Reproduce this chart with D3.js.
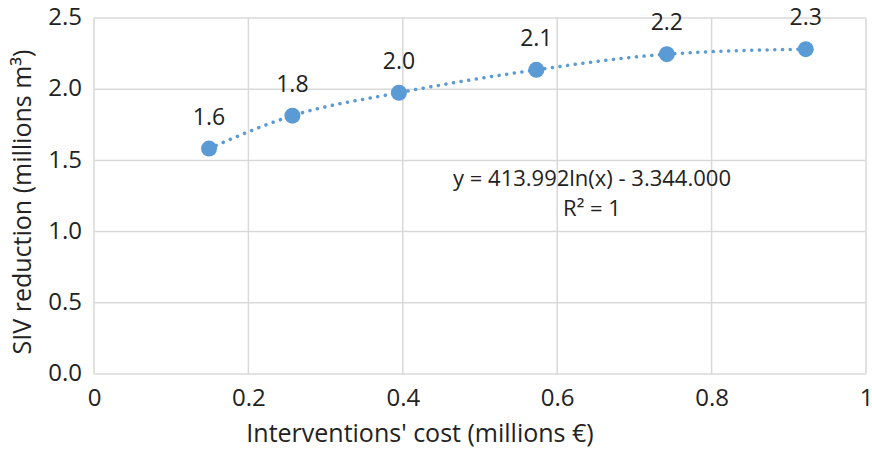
<!DOCTYPE html>
<html>
<head>
<meta charset="utf-8">
<script src="https://cdn.jsdelivr.net/npm/d3@7"></script>
<style>
  body { margin: 0; background: #fff; }
  svg text { font-family: "Open Sans", Lato, sans-serif; fill: #222; }
  .grid line { stroke: #d9d9d9; stroke-width: 1.5; }
  .domain { display: none; }
</style>
</head>
<body>
<svg id="chart" width="872" height="449"></svg>
<script>
'use strict';

const costs = [0.149, 0.257, 0.395, 0.573, 0.742, 0.922];
const reductions = [1.583, 1.814, 1.975, 2.136, 2.246, 2.281];
const labels = ['1.6', '1.8', '2.0', '2.1', '2.2', '2.3'];
const xTicks = [0, 0.2, 0.4, 0.6, 0.8, 1];
const yTicks = [0, 0.5, 1.0, 1.5, 2.0, 2.5];
const equation = ['y = 413.992ln(x) - 3.344.000', 'R² = 1'];

const svg = d3.select('#chart');
const margin = { top: 18, right: 6, bottom: 75, left: 94 };
const width = Number(svg.attr('width'));
const height = Number(svg.attr('height'));

const x = d3.scaleLinear().domain([0, 1]).range([margin.left, width - margin.right]);
const y = d3.scaleLinear().domain([0, 2.5]).range([height - margin.bottom, margin.top]);

const points = costs.map((c, i) => ({ x: c, y: reductions[i], label: labels[i] }));

// gridlines
const grid = svg.append('g').attr('class', 'grid');
grid.selectAll('line.h')
  .data(yTicks)
  .enter().append('line')
  .attr('x1', x(0)).attr('x2', x(1))
  .attr('y1', d => y(d)).attr('y2', d => y(d));
grid.selectAll('line.v')
  .data(xTicks)
  .enter().append('line')
  .attr('x1', d => x(d)).attr('x2', d => x(d))
  .attr('y1', y(0)).attr('y2', y(2.5));

// axes
const fmtX = d => (d === 0 || d === 1) ? String(d) : d3.format('.1f')(d);

svg.append('g')
  .attr('transform', 'translate(0,' + y(0) + ')')
  .call(d3.axisBottom(x).tickValues(xTicks).tickFormat(fmtX).tickSize(0).tickPadding(15))
  .call(g => g.selectAll('text').style('font-size', '24px').attr('fill', '#222'));

svg.append('g')
  .attr('transform', 'translate(' + (x(0) - 12) + ',0)')
  .call(d3.axisLeft(y).tickValues(yTicks).tickFormat(d3.format('.1f')).tickSize(0).tickPadding(0))
  .call(g => g.selectAll('text').style('font-size', '24px').attr('fill', '#222').attr('dy', '0.28em'));

// trend line
svg.append('path')
  .datum(points)
  .attr('fill', 'none')
  .attr('stroke', '#5b9bd5')
  .attr('stroke-width', 3.5)
  .attr('stroke-linecap', 'round')
  .attr('stroke-dasharray', '0.1 7.6')
  .attr('d', d3.line().x(d => x(d.x)).y(d => y(d.y)).curve(d3.curveMonotoneX));

// markers
svg.append('g')
  .selectAll('circle')
  .data(points)
  .enter().append('circle')
  .attr('cx', d => x(d.x))
  .attr('cy', d => y(d.y))
  .attr('r', 8)
  .attr('fill', '#5b9bd5');

// data labels
svg.append('g')
  .selectAll('text')
  .data(points)
  .enter().append('text')
  .attr('x', d => x(d.x))
  .attr('y', d => y(d.y) - 24)
  .attr('text-anchor', 'middle')
  .style('font-size', '23px')
  .text(d => d.label);

// equation
svg.append('text')
  .attr('x', 592)
  .attr('y', 186)
  .attr('text-anchor', 'middle')
  .style('font-size', '22px')
  .text(equation[0]);

svg.append('text')
  .attr('x', 592)
  .attr('y', 216)
  .attr('text-anchor', 'middle')
  .style('font-size', '22px')
  .text(equation[1]);

// axis titles
svg.append('text')
  .attr('x', 420)
  .attr('y', 442)
  .attr('text-anchor', 'middle')
  .style('font-size', '25px')
  .text('Interventions\' cost (millions €)');

svg.append('text')
  .attr('transform', 'translate(31,202) rotate(-90)')
  .attr('text-anchor', 'middle')
  .style('font-size', '25px')
  .text('SIV reduction (millions m³)');
</script>
</body>
</html>
